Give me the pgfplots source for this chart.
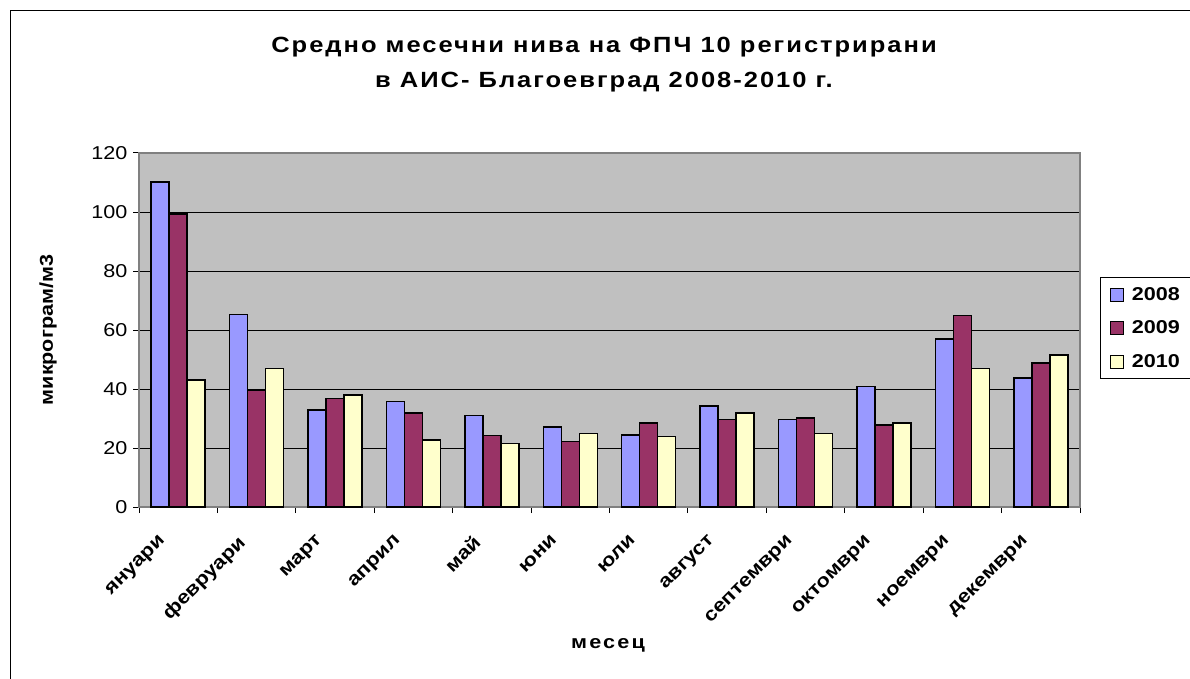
\documentclass[border=0pt]{standalone}
\usepackage{fontspec}
\setmainfont{Liberation Sans}[FakeStretch=1.16]
\usepackage{pgfplots}
\pgfplotsset{compat=1.18}
\definecolor{c08}{HTML}{9999FF}
\definecolor{c09}{HTML}{993366}
\definecolor{c10}{HTML}{FFFFCC}
\definecolor{pgray}{HTML}{C0C0C0}
\definecolor{agray}{HTML}{808080}
\pgfplotstableread{
x y08 y09 y10
0 110.2 99.4 43.0
1 65.3 39.7 47.0
2 32.9 36.8 38.0
3 35.7 31.8 22.7
4 31.1 24.3 21.5
5 27.2 22.2 25.0
6 24.4 28.4 23.9
7 34.2 29.7 31.9
8 29.7 30.2 25.0
9 40.9 27.8 28.4
10 56.9 64.9 47.0
11 43.7 48.8 51.6
}\datatable
\begin{document}
\begin{tikzpicture}[x=1pt,y=1pt]
\useasboundingbox (0,0) rectangle (1190,678);
\fill[white] (0,0) rectangle (1190,678);
\draw[line width=1.5pt] (10.5,-2) -- (10.5,667.5) -- (1192,667.5);
\begin{axis}[
  at={(139pt,171pt)}, anchor=south west,
  scale only axis, width=941pt, height=354pt,
  axis background/.style={fill=pgray},
  ybar=0pt, bar width=18pt,
  ymin=0, ymax=120, ytick={0,20,...,120},
  xmin=-0.5, xmax=11.5,
  xtick={0,...,11},
  xticklabels={януари,февруари,март,април,май,юни,юли,август,септември,октомври,ноември,декември},
  minor xtick={-0.5,0.5,...,11.5},
  major x tick style={draw=none},
  minor x tick style={black, line width=1pt},
  minor tick length=6pt,
  major tick length=6pt,
  tick align=outside,
  ytick style={black, line width=1pt},
  xtick pos=bottom, ytick pos=left,
  ymajorgrids, grid style={black, line width=0.8pt},
  axis line style={agray, line width=1.5pt},
  /pgf/number format/assume math mode=true,
  yticklabel style={font=\fontsize{18.6}{22}\selectfont, xshift=-2pt},
  xticklabel style={font=\fontsize{18.8}{22}\selectfont\bfseries, xshift=-20pt, yshift=-16pt, rotate=45, anchor=north east},
  legend style={at={(1.0213,0.6497)}, anchor=north west, draw=black, line width=1pt,
    font=\fontsize{18.6}{22}\selectfont\bfseries, inner xsep=9pt, inner ysep=8pt,
    row sep=15pt, text width=60pt},
  legend image code/.code={\draw[#1, line width=1.2pt] (0pt,-6.5pt) rectangle (13pt,6.5pt); \path (19pt,0pt);},
  legend cell align=left,
]
\addplot[fill=c08, draw=black, line width=1.5pt] table[x=x,y=y08] {\datatable};
\addplot[fill=c09, draw=black, line width=1.5pt] table[x=x,y=y09] {\datatable};
\addplot[fill=c10, draw=black, line width=1.5pt] table[x=x,y=y10] {\datatable};
\legend{2008,2009,2010}
\end{axis}
\node[font=\fontsize{22}{35}\selectfont\bfseries\addfontfeatures{LetterSpace=9}, align=center] at (604,613) {Средно месечни нива на ФПЧ 10 регистрирани\\в АИС- Благоевград 2008-2010 г.};
\node[font=\fontsize{18.6}{22}\selectfont\bfseries\addfontfeatures{LetterSpace=12}] at (608,33) {месец};
\node[font=\fontsize{18.6}{22}\selectfont\bfseries, rotate=90] at (48,348) {микрограм/м3};
\end{tikzpicture}
\end{document}
